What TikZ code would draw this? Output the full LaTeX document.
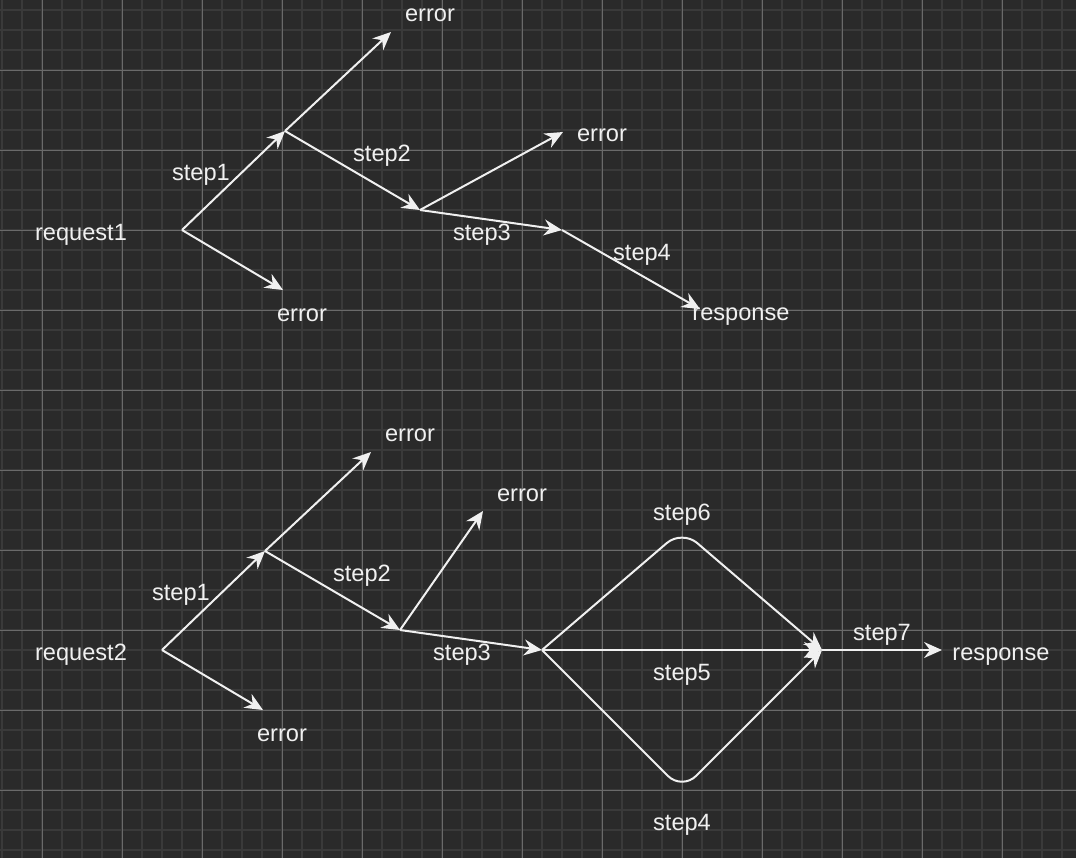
\documentclass[tikz,border=0pt]{standalone}
\usepackage{fontspec}
\setmainfont{Liberation Sans}
\usetikzlibrary{arrows.meta}
\definecolor{bgc}{HTML}{2A2A2A}
\definecolor{minorc}{HTML}{3A3A3A}
\definecolor{majorc}{HTML}{6A6A6A}
\definecolor{ink}{HTML}{F0F0F0}
\tikzset{
flow/.style={draw=ink, line width=1pt, -{Stealth[length=9pt,width=8pt,inset=3pt]}}, % the white connectors
lbl/.style={text=ink, inner sep=0pt, font=\fontsize{11.8}{14}\selectfont, text height=8.3pt, text depth=2.4pt, yshift=-1.2pt}, % every text
minorline/.style={draw=minorc, line width=1pt},
majorline/.style={draw=majorc, line width=0.5pt},
}
\begin{document}
\begin{tikzpicture}[x=0.5pt, y=-0.5pt]
\fill[bgc] (0,0) rectangle (1076,858);
\useasboundingbox (0,0) rectangle (1076,858);
% grid
\foreach \gx in {2,22,...,1076} \draw[minorline] (\gx,0) -- (\gx,858);
\foreach \gy in {10,30,...,858} \draw[minorline] (0,\gy) -- (1076,\gy);
\foreach \gx in {42,122,...,1076} \draw[majorline] (\gx,0) -- (\gx,858);
\foreach \gy in {70,150,...,858} \draw[majorline] (0,\gy) -- (1076,\gy);

% first request
\coordinate (r1) at (182,230);
\coordinate (a1) at (285,131);
\coordinate (b1) at (420,210);
\coordinate (c1) at (562,230);
\coordinate (e1t) at (391,32);
\coordinate (e1m) at (563,132);
\coordinate (e1b) at (283,290);
\coordinate (s1) at (700,309);
\node[lbl] (req1) at (81,232) {request1};
\node[lbl] (err1t) at (430,13) {error};
\node[lbl] (err1m) at (602,133) {error};
\node[lbl] (err1b) at (302,313) {error};
\node[lbl] (resp1) at (741,312) {response};
\node[lbl] (st1a) at (201,172) {step1};
\node[lbl] (st1b) at (382,153) {step2};
\node[lbl] (st1c) at (482,232) {step3};
\node[lbl] (st1d) at (642,252) {step4};
\draw[flow] (r1) -- (a1);
\draw[flow] (a1) -- (e1t);
\draw[flow] (a1) -- (b1);
\draw[flow] (b1) -- (e1m);
\draw[flow] (b1) -- (c1);
\draw[flow] (c1) -- (s1);
\draw[flow] (r1) -- (e1b);

% second request
\coordinate (r2) at (162,650);
\coordinate (a2) at (265,551);
\coordinate (b2) at (400,630);
\coordinate (c2) at (542,650);
\coordinate (t2) at (682,530);
\coordinate (u2) at (682,790);
\coordinate (m2) at (822,650);
\coordinate (e2t) at (371,452);
\coordinate (e2m) at (483,511);
\coordinate (e2b) at (263,710);
\coordinate (s2) at (942,650);
\node[lbl] (req2) at (81,652) {request2};
\node[lbl] (err2t) at (410,433) {error};
\node[lbl] (err2m) at (522,493) {error};
\node[lbl] (err2b) at (282,733) {error};
\node[lbl] (resp2) at (1001,652) {response};
\node[lbl] (st2a) at (181,592) {step1};
\node[lbl] (st2b) at (362,573) {step2};
\node[lbl] (st2c) at (462,652) {step3};
\node[lbl] (st2f) at (682,512) {step6};
\node[lbl] (st2e) at (682,672) {step5};
\node[lbl] (st2d) at (682,822) {step4};
\node[lbl] (st2g) at (882,632) {step7};
\draw[flow] (r2) -- (a2);
\draw[flow] (a2) -- (e2t);
\draw[flow] (a2) -- (b2);
\draw[flow] (b2) -- (e2m);
\draw[flow] (b2) -- (c2);
\draw[flow] (r2) -- (e2b);
\draw[flow, rounded corners=10pt] (c2) -- (t2) -- (m2);
\draw[flow] (c2) -- (m2);
\draw[flow, rounded corners=10pt] (c2) -- (u2) -- (m2);
\draw[flow] (m2) -- (s2);
\end{tikzpicture}
\end{document}
